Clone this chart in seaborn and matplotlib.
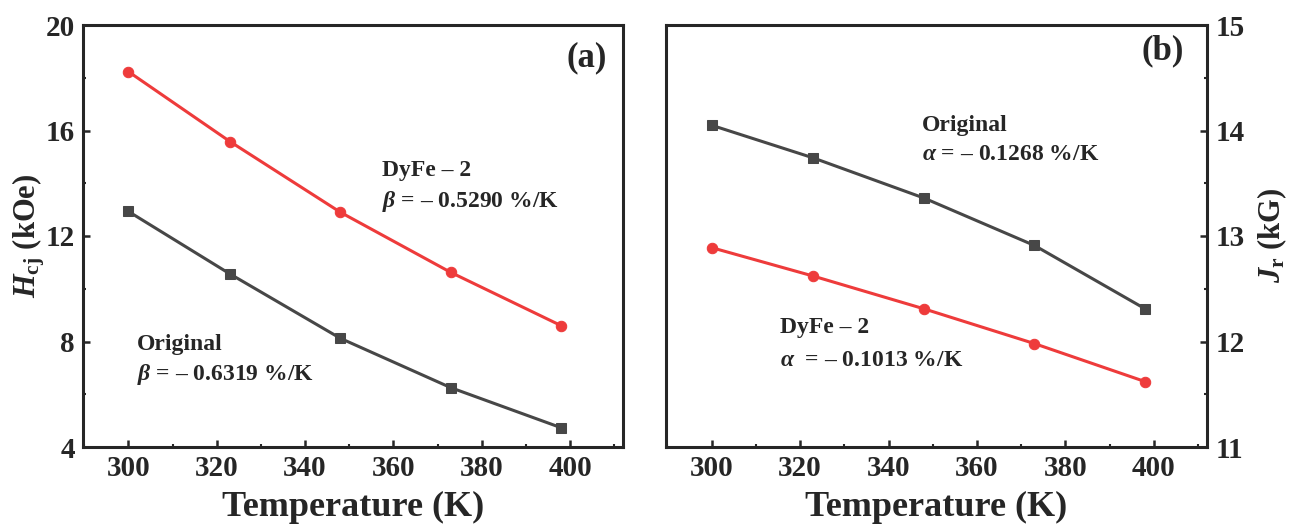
import matplotlib
matplotlib.use("Agg")
import matplotlib.pyplot as plt
import seaborn as sns
from matplotlib.ticker import MultipleLocator

temperature = [300, 323, 348, 373, 398]
hcj_original = [12.93, 10.56, 8.12, 6.25, 4.73]
hcj_dyfe2 = [18.23, 15.58, 12.90, 10.62, 8.60]
jr_original = [14.05, 13.74, 13.36, 12.91, 12.31]
jr_dyfe2 = [12.89, 12.62, 12.31, 11.98, 11.62]

sns.set_theme(style="ticks")
plt.rcParams["font.family"] = ["Liberation Serif", "DejaVu Serif"]
plt.rcParams["font.weight"] = "bold"
plt.rcParams["mathtext.fontset"] = "custom"
plt.rcParams["mathtext.rm"] = "Liberation Serif:bold"
plt.rcParams["mathtext.bf"] = "Liberation Serif:bold"
plt.rcParams["mathtext.it"] = "Liberation Serif:bold:italic"

RED = "#EE3B3B"
DARK = "#474747"

fig = plt.figure(figsize=(12.94, 5.30), dpi=100)
W, H = 1294, 530
ax1 = fig.add_axes([83 / W, (H - 447) / H, (623 - 83) / W, (447 - 25) / H])
ax2 = fig.add_axes([666 / W, (H - 447) / H, (1207 - 666) / W, (447 - 25) / H])

def draw(ax, y_orig, y_dy):
    sns.lineplot(x=temperature, y=y_dy, ax=ax, color=RED, marker="o",
                 markersize=7.5, markeredgecolor=RED, linewidth=2.2)
    sns.lineplot(x=temperature, y=y_orig, ax=ax, color=DARK, marker="s",
                 markersize=7, markeredgecolor=DARK, linewidth=2.2)

draw(ax1, hcj_original, hcj_dyfe2)
draw(ax2, jr_original, jr_dyfe2)

for ax in (ax1, ax2):
    ax.set_xlim(289.7, 412)
    ax.xaxis.set_major_locator(MultipleLocator(20))
    ax.xaxis.set_minor_locator(MultipleLocator(10))
    for s in ax.spines.values():
        s.set_linewidth(2.2)
        s.set_visible(True)
    ax.tick_params(which="major", direction="in", length=5, width=1.8,
                   labelsize=21, pad=6)
    ax.tick_params(which="minor", direction="in", length=2.5, width=1.5)
    ax.set_xlabel("Temperature (K)", fontsize=26, fontweight="bold", labelpad=6)

ax1.set_ylim(4, 20)
ax1.yaxis.set_major_locator(MultipleLocator(4))
ax1.yaxis.set_minor_locator(MultipleLocator(2))
ax1.set_ylabel("$H_{\\mathrm{cj}}$ (kOe)", fontsize=22, fontweight="bold", labelpad=-1)

ax2.set_ylim(11, 15)
ax2.yaxis.set_major_locator(MultipleLocator(1))
ax2.yaxis.set_minor_locator(MultipleLocator(0.5))
ax2.yaxis.tick_right()
ax2.yaxis.set_label_position("right")
ax2.tick_params(axis="y", which="both", left=False, right=True)
ax2.set_ylabel("$J_{\\mathrm{r}}$ (kG)", fontsize=22, fontweight="bold",
               labelpad=8, rotation=90)

for ax in (ax1, ax2):
    for lab in ax.get_xticklabels() + ax.get_yticklabels():
        lab.set_fontweight("bold")

afs = 17
ax1.text(357.4, 14.5, "DyFe – 2", fontsize=afs, fontweight="bold", va="center", ha="left")
ax1.text(357.4, 13.3, "$\\beta$ = – 0.5290 %/K", fontsize=afs, fontweight="bold", va="center", ha="left")
ax1.text(301.9, 7.88, "Original", fontsize=afs, fontweight="bold", va="center", ha="left")
ax1.text(301.9, 6.74, "$\\beta$ = – 0.6319 %/K", fontsize=afs, fontweight="bold", va="center", ha="left")
ax1.text(403.8, 18.75, "(a)", fontsize=25, fontweight="bold", va="center", ha="center")

ax2.text(347.6, 14.05, "Original", fontsize=afs, fontweight="bold", va="center", ha="left")
ax2.text(347.6, 13.77, "$\\alpha$ = – 0.1268 %/K", fontsize=afs, fontweight="bold", va="center", ha="left")
ax2.text(315.5, 12.13, "DyFe – 2", fontsize=afs, fontweight="bold", va="center", ha="left")
ax2.text(315.5, 11.82, "$\\alpha$  = – 0.1013 %/K", fontsize=afs, fontweight="bold", va="center", ha="left")
ax2.text(401.9, 14.76, "(b)", fontsize=25, fontweight="bold", va="center", ha="center")

fig.savefig("out.png", dpi=100)
